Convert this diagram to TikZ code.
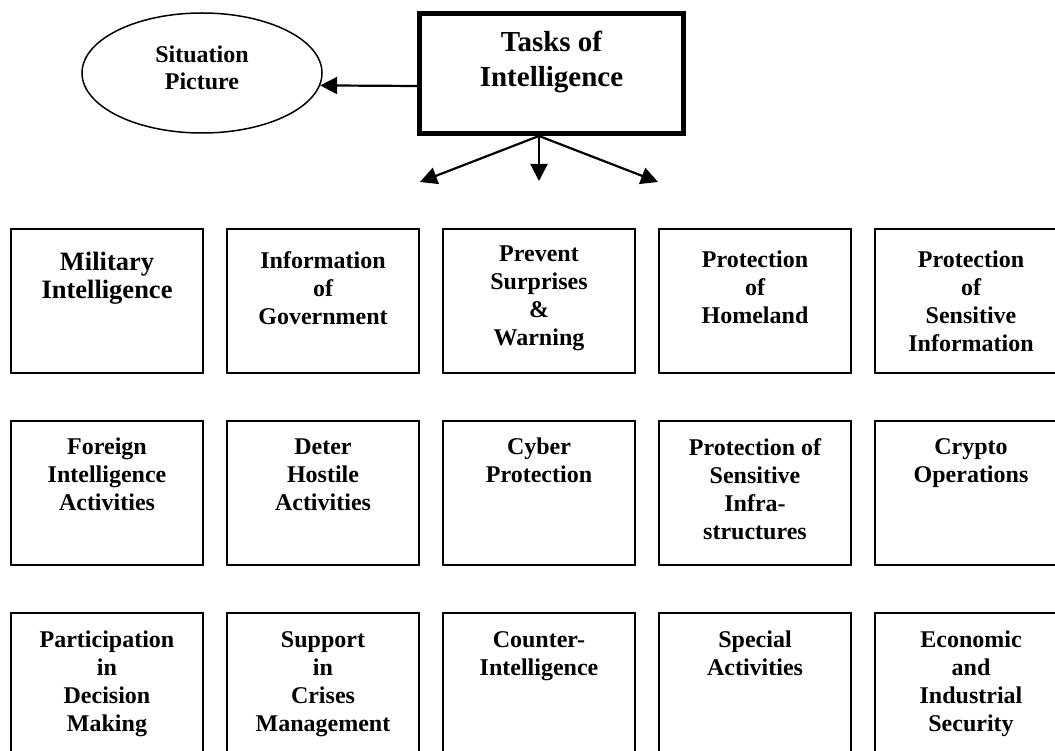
\documentclass[tikz,border=0pt]{standalone}
\usepackage{fontspec}
\setmainfont{Liberation Serif}
\usetikzlibrary{arrows.meta,shapes.geometric}
\begin{document}
\begin{tikzpicture}[x=1pt,y=-1pt,
  box/.style={draw, line width=1.8pt, minimum width=192pt, minimum height=144pt, inner sep=0pt},
  boxtext/.style={anchor=north, align=center, inner sep=0pt, font=\bfseries\fontsize{24}{28}\selectfont},
  arr/.style={line width=2.2pt, -{Triangle[length=17pt,width=17pt]}},
]
\clip (0,0) rectangle (1055,751);

% head of the chart
\node[draw, line width=5pt, minimum width=264pt, minimum height=120pt, inner sep=0pt] (main) at (551.5,73.5) {};
\node[anchor=north, align=center, inner sep=0pt, font=\bfseries\fontsize{29}{35}\selectfont] (title)
  at ([yshift=-19.5pt]main.north) {Tasks of\\Intelligence};

\node[draw, ellipse, line width=1.5pt, minimum width=240pt, minimum height=120pt, inner sep=0pt,
  label={[anchor=center, align=center, inner sep=0pt, yshift=5pt, font=\bfseries\fontsize{24}{27}\selectfont]center:{Situation\\Picture}}]
  (sit) at (202,73) {};

\draw[arr] ([yshift=-12.5pt]main.west) -- (sit.-6);

% fan of arrows below the head
\coordinate (fanO) at ([xshift=-12.5pt]main.south);
\coordinate (fanL) at (420,182);
\coordinate (fanM) at (539,181);
\coordinate (fanR) at (658,182);
\draw[arr] (fanO) -- (fanL);
\draw[arr] (fanO) -- (fanM);
\draw[arr] (fanO) -- (fanR);

% first row
\node[box, label={[boxtext,yshift=-24pt,font=\bfseries\fontsize{26.5}{28}\selectfont]north:{Military\\Intelligence}}] (b11) at (107,301) {};
\node[box, label={[boxtext,yshift=-23pt]north:{Information\\of\\Government}}] (b12) at (323,301) {};
\node[box, label={[boxtext,yshift=-17pt]north:{Prevent\\Surprises\\\&\\Warning}}] (b13) at (539,301) {};
\node[box, label={[boxtext,yshift=-23pt]north:{Protection\\of\\Homeland}}] (b14) at (755,301) {};
\node[box, label={[boxtext,yshift=-23pt]north:{Protection\\of\\Sensitive\\Information}}] (b15) at (971,301) {};

% second row
\node[box, label={[boxtext,yshift=-18pt]north:{Foreign\\Intelligence\\Activities}}] (b21) at (107,493) {};
\node[box, label={[boxtext,yshift=-18pt]north:{Deter\\Hostile\\Activities}}] (b22) at (323,493) {};
\node[box, label={[boxtext,yshift=-18pt]north:{Cyber\\Protection}}] (b23) at (539,493) {};
\node[box, label={[boxtext,yshift=-18pt]north:{Protection of\\Sensitive\\Infra-\\structures}}] (b24) at (755,493) {};
\node[box, label={[boxtext,yshift=-18pt]north:{Crypto\\Operations}}] (b25) at (971,493) {};

% third row
\node[box, label={[boxtext,yshift=-19pt]north:{Participation\\in\\Decision\\Making}}] (b31) at (107,685) {};
\node[box, label={[boxtext,yshift=-19pt]north:{Support\\in\\Crises\\Management}}] (b32) at (323,685) {};
\node[box, label={[boxtext,yshift=-19pt]north:{Counter-\\Intelligence}}] (b33) at (539,685) {};
\node[box, label={[boxtext,yshift=-19pt]north:{Special\\Activities}}] (b34) at (755,685) {};
\node[box, label={[boxtext,yshift=-19pt]north:{Economic\\and\\Industrial\\Security}}] (b35) at (971,685) {};
\end{tikzpicture}
\end{document}
